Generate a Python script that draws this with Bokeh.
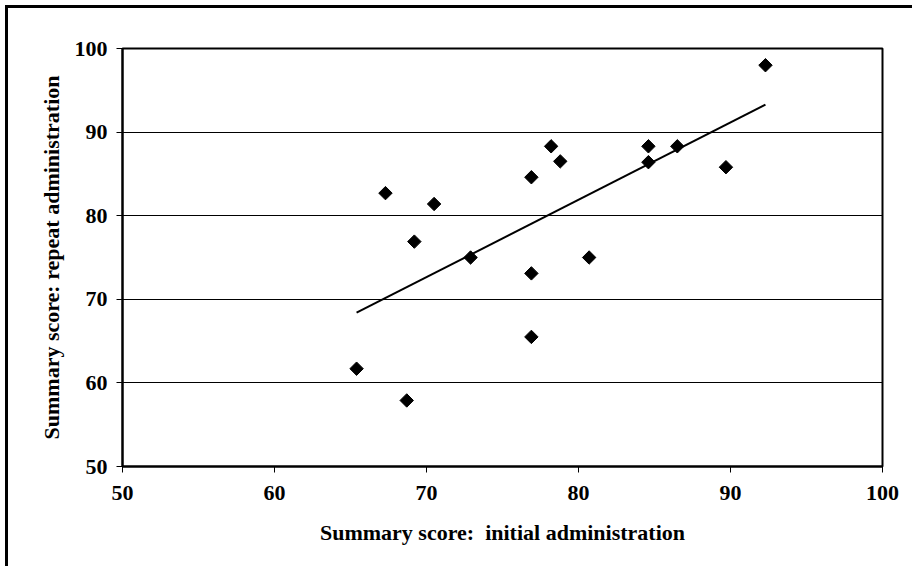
import numpy as np
from bokeh.plotting import figure
from bokeh.embed import file_html
from bokeh.resources import INLINE
from bokeh.models import FixedTicker, Range1d

# Data
initial_scores = [67.3, 70.5, 69.2, 72.9, 76.9, 78.8, 76.9, 80.7, 76.9,
                  65.4, 68.7, 78.2, 84.6, 86.5, 84.6, 89.7, 92.3]
repeat_scores = [82.7, 81.4, 76.9, 75.0, 84.6, 86.5, 73.1, 75.0, 65.5,
                 61.7, 57.9, 88.3, 88.3, 88.3, 86.4, 85.8, 98.0]
x_ticks = [50, 60, 70, 80, 90, 100]
y_ticks = [50, 60, 70, 80, 90, 100]
grid_ticks = [60, 70, 80, 90]

# Linear trend line (least squares)
slope, intercept = np.polyfit(initial_scores, repeat_scores, 1)
trend_x = [min(initial_scores), max(initial_scores)]
trend_y = [slope * v + intercept for v in trend_x]

FONT = "Liberation Serif"

p = figure(frame_width=760, frame_height=418,
           min_border_left=114, min_border_top=40,
           min_border_right=30, min_border_bottom=100,
           x_range=Range1d(50, 100), y_range=Range1d(50, 100),
           output_backend="svg", toolbar_location=None)
# outer page border (left and top visible; right/bottom fall outside the view)
p.styles = {"border-left": "3px solid black", "border-top": "3px solid black",
            "margin-left": "5px", "margin-top": "5px"}

p.background_fill_color = "white"
p.border_fill_color = "white"
p.outline_line_color = "black"
p.outline_line_width = 2

p.xgrid.grid_line_color = None
p.ygrid.grid_line_color = "black"
p.ygrid.grid_line_width = 1
p.ygrid.ticker = FixedTicker(ticks=grid_ticks)

p.xaxis.ticker = FixedTicker(ticks=x_ticks)
p.yaxis.ticker = FixedTicker(ticks=y_ticks)

for ax in (p.xaxis[0], p.yaxis[0]):
    ax.axis_line_color = "black"
    ax.axis_line_width = 2
    ax.major_tick_line_color = "black"
    ax.major_tick_in = 0
    ax.major_tick_out = 6
    ax.minor_tick_line_color = None
    ax.major_label_text_font = FONT
    ax.major_label_text_font_style = "bold"
    ax.major_label_text_font_size = "22px"
    ax.major_label_text_color = "black"
    ax.axis_label_text_font = FONT
    ax.axis_label_text_font_style = "bold"
    ax.axis_label_text_font_size = "22px"
    ax.axis_label_text_color = "black"

p.xaxis.axis_label = "Summary score:\u00a0 initial administration"
p.yaxis.axis_label = "Summary score: repeat administration"
p.xaxis.major_label_standoff = 13
p.yaxis.major_label_standoff = 9
p.xaxis.axis_label_standoff = 17
p.yaxis.axis_label_standoff = 8

p.line(trend_x, trend_y, line_color="black", line_width=2)
p.scatter(initial_scores, repeat_scores, marker="square", size=9.5,
          angle=np.pi / 4, fill_color="black", line_color="black")

open("out.html", "w").write(file_html(p, INLINE))
